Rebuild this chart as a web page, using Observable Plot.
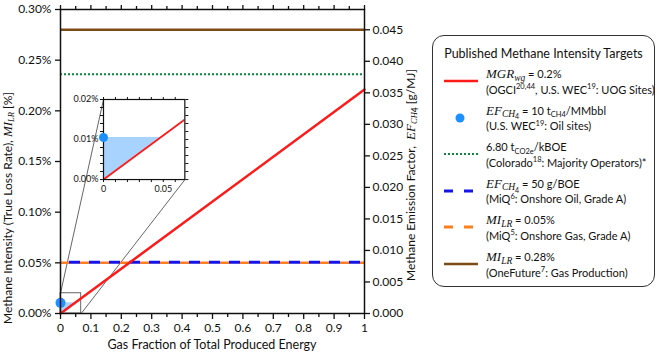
<!DOCTYPE html>
<html><head><meta charset="utf-8">
<script src="https://cdn.jsdelivr.net/npm/d3@7"></script>
<script src="https://cdn.jsdelivr.net/npm/@observablehq/plot@0.6"></script>
<style>
body{margin:0;background:#fff;font-family:Lato,"Open Sans",sans-serif;color:#111;}
#wrap{position:relative;width:658px;height:354px;overflow:hidden;}
#wrap svg{position:absolute;}
.m{font-family:"Liberation Serif","DejaVu Serif",serif;font-style:italic;}
#legend{position:absolute;left:432px;top:35px;width:223px;height:252px;border:1.3px solid #333;border-radius:12px;box-sizing:border-box;background:#fff;}
#legend .title{position:absolute;left:0;width:100%;top:10px;text-align:center;font-size:12.5px;}
#legend .row{position:absolute;left:0;width:100%;height:36px;}
#legend .sw{position:absolute;left:10px;top:8px;}
#legend .txt{position:absolute;left:53px;top:0;font-size:11px;line-height:15.5px;white-space:nowrap;}
#legend .txt span.m{font-size:13px;}
#legend sub,#legend sup{font-size:7.5px;line-height:0;position:relative;vertical-align:baseline;}
#legend sup{top:-0.6em;}
#legend sub{top:0.35em;}
#legend sub.m{font-size:9.5px;top:0.3em;}
#legend sub span.m{font-size:9.5px !important;}
#legend sub sub{font-size:7px;top:0.3em;}
</style></head><body><div id="wrap"></div>
<script>
// ---------- data ----------
const xTicks = [0, 0.1, 0.2, 0.3, 0.4, 0.5, 0.6, 0.7, 0.8, 0.9, 1];
const xTickLabels = ["0", "0.1", "0.2", "0.3", "0.4", "0.5", "0.6", "0.7", "0.8", "0.9", "1"];
const xMinorTicks = [0.05, 0.15, 0.25, 0.35, 0.45, 0.55, 0.65, 0.75, 0.85, 0.95];
const yTicks = [0, 0.05, 0.10, 0.15, 0.20, 0.25, 0.30];
const yTickLabels = ["0.00%", "0.05%", "0.10%", "0.15%", "0.20%", "0.25%", "0.30%"];
const efTicks = [0, 0.005, 0.010, 0.015, 0.020, 0.025, 0.030, 0.035, 0.040, 0.045];
const efTickLabels = ["0.000", "0.005", "0.010", "0.015", "0.020", "0.025", "0.030", "0.035", "0.040", "0.045"];
const efAtLossRate = [0.045, 0.28];          // 0.045 g/MJ corresponds to 0.28 %
const redX = [0, 1];
const redY = [0, 0.221];                       // MGR_wg = 0.2%
const dotX = [0];
const dotY = [0.0105];                         // 10 tCH4/MMbbl
const greenY = [0.236];                        // 6.80 tCO2e/kBOE
const blueDashY = [0.0505];                    // 50 g/BOE
const orangeY = [0.05];                        // MI_LR 0.05%
const brownY = [0.28];                         // MI_LR 0.28%
const insetXDomain = [0, 0.068];
const insetYDomain = [0, 0.02];
const insetXTicks = [0, 0.05];
const insetXTickLabels = ["0", "0.05"];
const insetXMinor = [0.01, 0.02, 0.03, 0.04, 0.06];
const insetYTicks = [0, 0.01, 0.02];
const insetYTickLabels = ["0.00%", "0.01%", "0.02%"];
const insetYMinor = [0.002, 0.004, 0.006, 0.008, 0.012, 0.014, 0.016, 0.018];

// ---------- layout ----------
const insetPlace = {x: [0.1414, 0.409], y: [0.132, 0.211]}; // inset frame, in main-chart units

const pct = efAtLossRate[1] / efAtLossRate[0];
const lab = (ticks, labels) => d => { const i = ticks.findIndex(t => Math.abs(t - d) < 1e-9); return i < 0 ? "" : labels[i]; };
const red = redX.map((x, i) => ({x, y: redY[i]}));
const dots = dotX.map((x, i) => ({x, y: dotY[i]}));
const xi = dotY[0] / ((redY[1] - redY[0]) / (redX[1] - redX[0]));
const fillPts = [{x: 0, y1: 0, y2: dotY[0]}, {x: xi, y1: dotY[0], y2: dotY[0]}];
const C = {red: "#ff1a1a", dot: "#1e8fff", green: "#13803f", blue: "#1414e6", orange: "#ff7f1e", brown: "#7d4b16", fill: "#a9d3ff"};

const main = Plot.plot({
  width: 658, height: 354,
  marginLeft: 60, marginRight: 294, marginTop: 9, marginBottom: 41,
  x: {domain: [0, 1]},
  y: {domain: [0, 0.30]},
  style: {fontFamily: "Lato", fontSize: "12px", color: "#111", background: "transparent"},
  marks: [
    Plot.areaY(fillPts, {x: "x", y1: "y1", y2: "y2", fill: C.fill}),
    Plot.rect([{x1: insetXDomain[0], x2: insetXDomain[1], y1: insetYDomain[0], y2: insetYDomain[1]}], {x1: "x1", x2: "x2", y1: "y1", y2: "y2", fill: "none", stroke: "#666", strokeWidth: 1}),
    Plot.link([
      {x1: insetXDomain[0], y1: insetYDomain[1], x2: insetPlace.x[0], y2: insetPlace.y[1]},
      {x1: insetXDomain[1], y1: insetYDomain[0], x2: insetPlace.x[1], y2: insetPlace.y[0]}
    ], {x1: "x1", y1: "y1", x2: "x2", y2: "y2", stroke: "#666", strokeWidth: 1}),
    Plot.ruleY(brownY, {stroke: C.brown, strokeWidth: 2.5}),
    Plot.ruleY(greenY, {stroke: C.green, strokeWidth: 2, strokeDasharray: "2,2"}),
    Plot.ruleY(orangeY, {stroke: C.orange, strokeWidth: 2.5, strokeDasharray: "9,11"}),
    Plot.ruleY(blueDashY, {stroke: C.blue, strokeWidth: 3, strokeDasharray: "11,9", strokeDashoffset: 11}),
    Plot.line(red, {x: "x", y: "y", stroke: C.red, strokeWidth: 2.5}),
    Plot.dot(dots, {x: "x", y: "y", r: 5, fill: C.dot, stroke: "none"}),
    Plot.frame({stroke: "#111", strokeWidth: 1.5}),
    Plot.axisX({anchor: "bottom", ticks: xTicks, tickFormat: lab(xTicks, xTickLabels), tickSize: 6, tickPadding: 4, label: null, strokeWidth: 1.3}),
    Plot.axisX({anchor: "bottom", ticks: xMinorTicks, tickFormat: () => "", tickSize: 4, label: null, strokeWidth: 1.3}),
    Plot.axisX({anchor: "top", ticks: xTicks, tickFormat: () => "", tickSize: 5, label: null, strokeWidth: 1.3}),
    Plot.axisX({anchor: "top", ticks: xMinorTicks, tickFormat: () => "", tickSize: 4, label: null, strokeWidth: 1.3}),
    Plot.axisY({anchor: "left", ticks: yTicks, tickFormat: lab(yTicks, yTickLabels), tickSize: 5, tickPadding: 4, label: null, strokeWidth: 1.3}),
    Plot.axisY({anchor: "right", ticks: efTicks.map(v => v * pct), tickFormat: lab(efTicks.map(v => v * pct), efTickLabels), tickSize: 5, tickPadding: 3, label: null, strokeWidth: 1.3})
  ]
});
const wrap = document.getElementById("wrap");
wrap.appendChild(main);

// axis titles
const svg = d3.select(main);
function addLabel(x, y, rot, size, parts) {
  const t = svg.append("text").attr("transform", `translate(${x},${y}) rotate(${rot})`)
    .attr("text-anchor", "middle").attr("dominant-baseline", "middle")
    .attr("font-family", "Lato").attr("font-size", size).attr("fill", "#111");
  for (const p of parts) {
    const s = t.append("tspan").text(p.t);
    if (p.m) s.attr("font-family", "Liberation Serif").attr("font-style", "italic").attr("font-size", size + 1);
    if (p.sub) s.attr("font-size", 8.5).attr("dy", p.dy || 0);
    if (p.up) s.attr("dy", p.up);
  }
}
addLabel(212, 346, 0, 12.5, [{t: "Gas Fraction of Total Produced Energy"}]);
addLabel(9, 208, -90, 12, [{t: "Methane Intensity (True Loss Rate), "}, {t: "MI", m: 1}, {t: "LR", m: 1, sub: 1, dy: 3}, {t: " [%]", up: -3}]);
addLabel(412, 175, -90, 12, [{t: "Methane Emission Factor,  "}, {t: "EF", m: 1}, {t: "CH", m: 1, sub: 1, dy: 3}, {t: "4", sub: 1, dy: 1}, {t: " [g/MJ]", up: -4}]);

// inset
const sx = main.scale("x"), sy = main.scale("y");
const ix0 = sx.apply(insetPlace.x[0]), ix1 = sx.apply(insetPlace.x[1]);
const iy0 = sy.apply(insetPlace.y[1]), iy1 = sy.apply(insetPlace.y[0]);
const mL = 34, mR = 8, mT = 8, mB = 18;
const inset = Plot.plot({
  width: (ix1 - ix0) + mL + mR, height: (iy1 - iy0) + mT + mB,
  marginLeft: mL, marginRight: mR, marginTop: mT, marginBottom: mB,
  x: {domain: insetXDomain},
  y: {domain: insetYDomain},
  style: {fontFamily: "Lato", fontSize: "9px", color: "#111", background: "transparent", overflow: "visible"},
  marks: [
    Plot.frame({fill: "white", stroke: "none"}),
    Plot.areaY(fillPts, {x: "x", y1: "y1", y2: "y2", fill: C.fill}),
    Plot.line(red, {x: "x", y: "y", stroke: C.red, strokeWidth: 1.8, clip: true}),
    Plot.frame({stroke: "#111", strokeWidth: 1.2}),
    Plot.axisX({anchor: "bottom", ticks: insetXTicks, tickFormat: lab(insetXTicks, insetXTickLabels), tickSize: 3, tickPadding: 3, label: null}),
    Plot.axisX({anchor: "bottom", ticks: insetXMinor, tickFormat: () => "", tickSize: 3, label: null}),
    Plot.axisX({anchor: "top", ticks: [...insetXTicks, ...insetXMinor], tickFormat: () => "", tickSize: 3, label: null}),
    Plot.axisY({anchor: "left", ticks: insetYTicks, tickFormat: lab(insetYTicks, insetYTickLabels), tickSize: 3, tickPadding: 2, label: null}),
    Plot.axisY({anchor: "left", ticks: insetYMinor, tickFormat: () => "", tickSize: 3, label: null}),
    Plot.axisY({anchor: "right", ticks: [...insetYTicks, ...insetYMinor], tickFormat: () => "", tickSize: 3, label: null}),
    Plot.dot(dots, {x: "x", y: "y", r: 4.5, fill: C.dot, stroke: "none"})
  ]
});
inset.style.left = (ix0 - mL) + "px";
inset.style.top = (iy0 - mT) + "px";
wrap.appendChild(inset);

// legend
const sw = (kind, color) => {
  if (kind === "dot") return `<svg class="sw" width="36" height="14"><circle cx="17" cy="7" r="4.5" fill="${color}"/></svg>`;
  const dash = kind === "dash" ? 'stroke-dasharray="9,11"' : kind === "dot2" ? 'stroke-dasharray="2,2"' : "";
  const w = kind === "dot2" ? 2 : kind === "dash" ? 3 : 2.5;
  return `<svg class="sw" width="36" height="14"><line x1="1" x2="35" y1="7" y2="7" stroke="${color}" stroke-width="${w}" ${dash}/></svg>`;
};
const entries = [
  [sw("line", C.red), `<span class="m">MGR</span><sub class="m">wg</sub> = 0.2%`, `(OGCI<sup>20,44</sup>, U.S. WEC<sup>19</sup>: UOG Sites)`],
  [sw("dot", C.dot), `<span class="m">EF</span><sub><span class="m">CH</span><sub>4</sub></sub> = 10 t<sub>CH4</sub>/MMbbl`, `(U.S. WEC<sup>19</sup>: Oil sites)`],
  [sw("dot2", C.green), `6.80 t<sub>CO2e</sub>/kBOE`, `(Colorado<sup>18</sup>: Majority Operators)*`],
  [sw("dash", C.blue), `<span class="m">EF</span><sub><span class="m">CH</span><sub>4</sub></sub> = 50 g/BOE`, `(MiQ<sup>6</sup>: Onshore Oil, Grade A)`],
  [sw("dash", C.orange), `<span class="m">MI</span><sub class="m">LR</sub> = 0.05%`, `(MiQ<sup>5</sup>: Onshore Gas, Grade A)`],
  [sw("line", C.brown), `<span class="m">MI</span><sub class="m">LR</sub> = 0.28%`, `(OneFuture<sup>7</sup>: Gas Production)`]
];
let html = `<div class="title">Published Methane Intensity Targets</div>`;
entries.forEach((e, i) => {
  html += `<div class="row" style="top:${30 + i * 36.6}px">${e[0]}<div class="txt"><div>${e[1]}</div><div>${e[2]}</div></div></div>`;
});
const lg = document.createElement("div");
lg.id = "legend";
lg.innerHTML = html;
wrap.appendChild(lg);
</script>
</body></html>
